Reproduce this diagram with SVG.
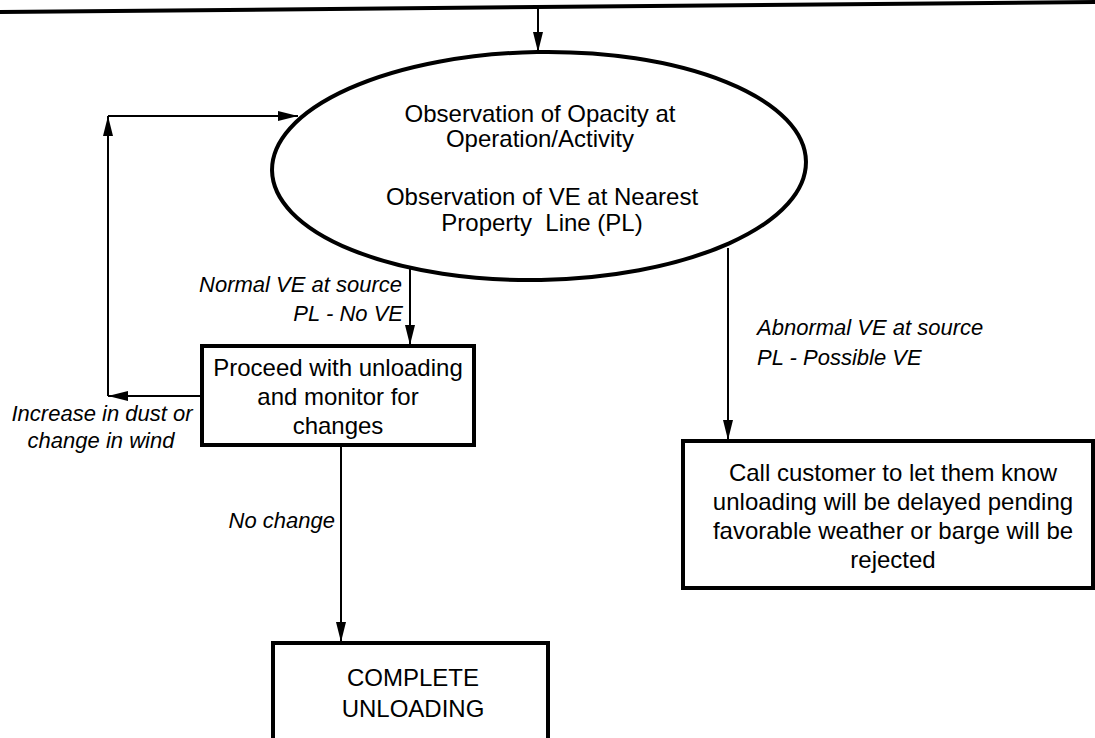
<svg xmlns="http://www.w3.org/2000/svg" width="1095" height="738" viewBox="0 0 1095 738">
<style>
.box{fill:#fff;stroke:#000;stroke-width:4}
.ell{fill:#fff;stroke:#000;stroke-width:4}
.t{font-family:"Liberation Sans",Arial,sans-serif;font-size:24px;fill:#000;text-anchor:middle}
.lb{font-family:"Liberation Sans",Arial,sans-serif;font-size:22px;font-style:italic;fill:#000}
.c{fill:none;stroke:#000;stroke-width:2}
</style>
<defs>
<marker id="ah" viewBox="0 0 20 10" refX="20" refY="5" markerWidth="20" markerHeight="10" markerUnits="userSpaceOnUse" orient="auto">
<path d="M0,0 L20,5 L0,10 Z" fill="#000"/>
</marker>
</defs>
<line x1="0" y1="12" x2="1095" y2="2" stroke="#000" stroke-width="4"/>
<g id="connectors">
<path class="c" d="M538,7 L538,52" marker-end="url(#ah)"/>
<path class="c" d="M410,268 L410,345" marker-end="url(#ah)"/>
<path class="c" d="M728,248 L728,440" marker-end="url(#ah)"/>
<path class="c" d="M341,446 L341,642" marker-end="url(#ah)"/>
<path class="c" d="M202,396 L108,396" marker-end="url(#ah)"/>
<path class="c" d="M108,396 L108,116" marker-end="url(#ah)"/>
<path class="c" d="M108,116 L298,116" marker-end="url(#ah)"/>
<text class="lb" x="402" y="292" text-anchor="end">Normal VE at source</text>
<text class="lb" x="403" y="321" text-anchor="end">PL - No VE</text>
<text class="lb" x="757" y="335">Abnormal VE at source</text>
<text class="lb" x="757" y="365">PL - Possible VE</text>
<text class="lb" x="102" y="421" text-anchor="middle">Increase in dust or</text>
<text class="lb" x="101" y="448" text-anchor="middle">change in wind</text>
<text class="lb" x="335" y="528" text-anchor="end">No change</text>
</g>
<g id="observation">
<ellipse class="ell" cx="539" cy="166" rx="267" ry="114" transform="rotate(-1 539 166)"/>
<text class="t" x="540" y="122">Observation of Opacity at</text>
<text class="t" x="540" y="147">Operation/Activity</text>
<text class="t" x="542" y="205">Observation of VE at Nearest</text>
<text class="t" x="542" y="231" xml:space="preserve">Property  Line (PL)</text>
</g>
<g id="proceed">
<rect class="box" x="202" y="346" width="272" height="99"/>
<text class="t" x="338" y="376">Proceed with unloading</text>
<text class="t" x="338" y="405">and monitor for</text>
<text class="t" x="338" y="434">changes</text>
</g>
<g id="call-customer">
<rect class="box" x="683" y="441" width="410" height="147"/>
<text class="t" x="893" y="481">Call customer to let them know</text>
<text class="t" x="893" y="510">unloading will be delayed pending</text>
<text class="t" x="893" y="539">favorable weather or barge will be</text>
<text class="t" x="893" y="568">rejected</text>
</g>
<g id="complete">
<rect class="box" x="273" y="643" width="275" height="102"/>
<text class="t" x="413" y="686">COMPLETE</text>
<text class="t" x="413" y="717">UNLOADING</text>
</g>
</svg>
